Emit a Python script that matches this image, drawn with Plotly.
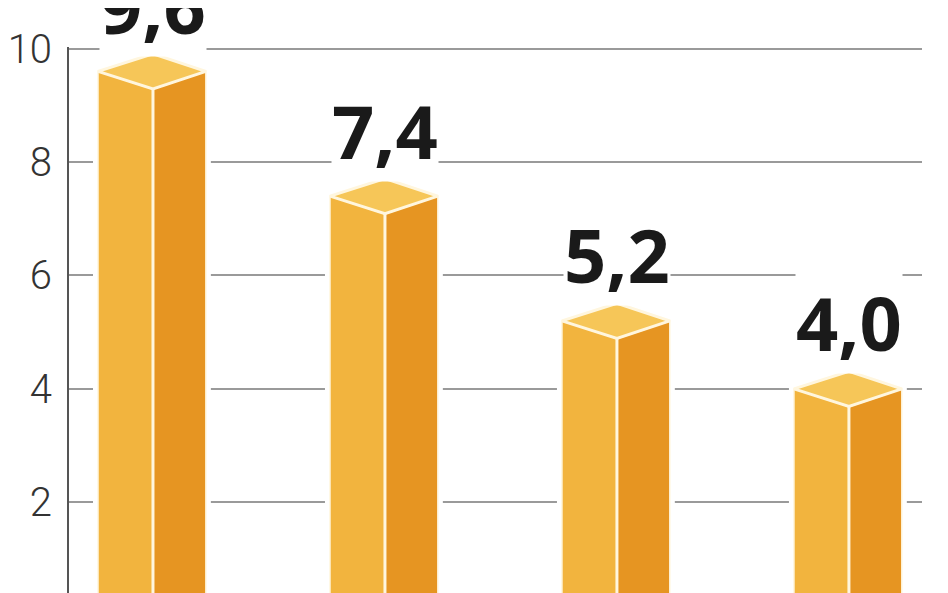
import plotly.graph_objects as go

categories = ["1", "2", "3", "4"]
values = [9.6, 7.4, 5.2, 4.0]
value_labels = ["9,6", "7,4", "5,2", "4,0"]
tick_vals = [2, 4, 6, 8, 10]
tick_text = ["2", "4", "6", "8", "10"]

FRONT = "#F2B43E"
SIDE = "#E69522"
TOP = "#F6C658"
EDGE = "#FFF6DE"

fw = 0.237   # front face width (x units)
sw = 0.228   # side face width (x units)
dd = 0.31    # half-height of top diamond (y units)
ymin = 0.40

xs = list(range(len(categories)))
fig = go.Figure()

def poly(px, py, fill, lc, lw):
    fig.add_trace(go.Scatter(
        x=px, y=py, mode="lines", fill="toself", fillcolor=fill,
        line=dict(color=lc, width=lw), hoverinfo="skip", showlegend=False))

for i, v in zip(xs, values):
    # white halo silhouette (hides gridlines around the box)
    poly([i - fw, i - fw, i, i + sw, i + sw, i - fw],
         [0, v, v + dd, v, 0, 0], "white", "white", 10)
    # front face
    poly([i - fw, i - fw, i, i, i - fw], [0, v, v - dd, 0, 0], FRONT, EDGE, 1.5)
    # side face
    poly([i, i, i + sw, i + sw, i], [0, v - dd, v, 0, 0], SIDE, EDGE, 1.5)
    # top face
    poly([i - fw, i, i + sw, i, i - fw], [v, v - dd, v, v + dd, v], TOP, EDGE, 3)
    # front vertical edge
    fig.add_trace(go.Scatter(x=[i, i], y=[0, v - dd], mode="lines",
                             line=dict(color=EDGE, width=3),
                             hoverinfo="skip", showlegend=False))

for i, v, t in zip(xs, values, value_labels):
    fig.add_annotation(
        x=i, y=v + dd, xref="x", yref="y", text=f"<b>{t}</b>",
        showarrow=False, xanchor="center", yanchor="bottom", yshift=-3,
        font=dict(family="Open Sans", size=74, color="#1a1a1a"),
        bgcolor="white", borderpad=0)

fig.update_layout(
    width=948, height=593,
    margin=dict(l=61, r=34, t=39, b=8, autoexpand=False),
    paper_bgcolor="white", plot_bgcolor="white",
    xaxis=dict(range=[-0.362, 3.315], visible=False, fixedrange=True),
    yaxis=dict(range=[ymin, 10.03], tickvals=tick_vals, ticktext=tick_text,
               showgrid=True, gridcolor="#9a9a9a", gridwidth=1.5,
               showline=True, linecolor="#555555", linewidth=2,
               ticks="", zeroline=False, ticklabelstandoff=7, automargin=False,
               tickfont=dict(family="Roboto", size=40, color="#333333", weight=300)),
)

fig.write_html("out.html")
